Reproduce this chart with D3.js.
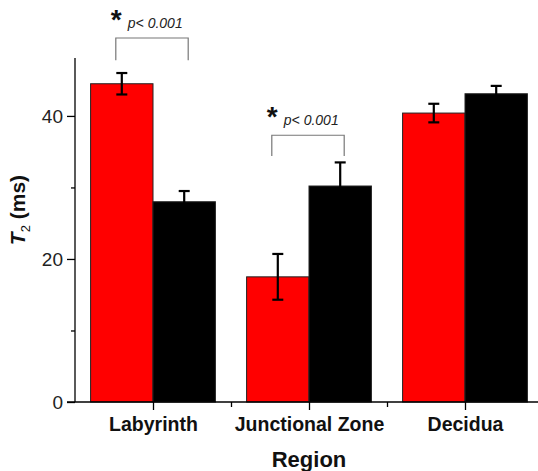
<!DOCTYPE html>
<html>
<head>
<meta charset="utf-8">
<script src="https://cdn.jsdelivr.net/npm/d3@7"></script>
<style>
  body { margin: 0; background: #fff; }
  text { font-family: "Liberation Sans", Arial, sans-serif; }
</style>
</head>
<body>
<div id="chart"></div>
<script>
var svgWidth = 538;
var svgHeight = 471;

// data
var regions = ["Labyrinth", "Junctional Zone", "Decidua"];
var redMeans = [44.5, 17.5, 40.4];
var redErrs = [1.5, 3.2, 1.3];
var blackMeans = [28.0, 30.2, 43.1];
var blackErrs = [1.5, 3.3, 1.1];
var yTicks = [0, 20, 40];
var yMinorTicks = [10, 30];
var sigLabel = "p< 0.001";

var svg = d3.select("#chart")
  .append("svg")
  .attr("width", svgWidth)
  .attr("height", svgHeight);

// category centres sit on integer positions 1..3
var x = d3.scaleLinear().domain([0.5, 3.5]).range([75, 543]);
var y = d3.scaleLinear().domain([0, 48.1]).range([402, 58]);
var barW = (x(2) - x(1)) * 0.4;

var series = [
  {means: redMeans, errs: redErrs, color: "#ff0000", offset: -1},
  {means: blackMeans, errs: blackErrs, color: "#000000", offset: 0}
];

// bars
series.forEach(function(s) {
  svg.append("g").selectAll("rect")
    .data(s.means)
    .enter()
    .append("rect")
    .attr("x", (d, i) => x(i + 1) + s.offset * barW)
    .attr("y", d => y(d))
    .attr("width", barW)
    .attr("height", d => y(0) - y(d))
    .attr("fill", s.color)
    .attr("stroke", "#222")
    .attr("stroke-width", 1);
});

// error bars
series.forEach(function(s) {
  var g = svg.append("g");
  s.means.forEach(function(m, i) {
    var cx = x(i + 1) + s.offset * barW + barW / 2;
    var e = s.errs[i];
    g.append("line")
      .attr("x1", cx).attr("x2", cx)
      .attr("y1", y(m + e)).attr("y2", y(m - e))
      .attr("stroke", "#000").attr("stroke-width", 2.2);
    [m + e, m - e].forEach(function(v) {
      g.append("line")
        .attr("x1", cx - 5.5).attr("x2", cx + 5.5)
        .attr("y1", y(v)).attr("y2", y(v))
        .attr("stroke", "#000").attr("stroke-width", 2.2);
    });
  });
});

// y axis
var leftAxis = d3.axisLeft(y).tickValues(yTicks).tickSize(8).tickPadding(4);
var yAxis = svg.append("g")
  .attr("transform", `translate(${x(0.5)}, 0)`)
  .call(leftAxis);
yAxis.select(".domain").attr("d", `M0,${y(0)}V${y(48.1)}`).attr("stroke-width", 1.3);
yAxis.selectAll(".tick line").attr("stroke-width", 1.3);
yAxis.selectAll("text")
  .style("font-size", "19px")
  .attr("fill", "#222");
svg.append("g")
  .attr("transform", `translate(${x(0.5)}, 0)`)
  .call(d3.axisLeft(y).tickValues(yMinorTicks).tickSize(4).tickFormat(""))
  .call(g => g.select(".domain").remove())
  .selectAll("line").attr("stroke-width", 1.3);

// x axis
var bottomAxis = d3.axisBottom(x).tickValues([1, 2, 3]).tickSize(8).tickFormat((d, i) => regions[i]).tickPadding(7);
var xAxis = svg.append("g")
  .attr("transform", `translate(0, ${y(0)})`)
  .call(bottomAxis);
xAxis.select(".domain").attr("d", `M${x(0.5) - 8},0H${x(3.5)}`).attr("stroke-width", 1.3);
xAxis.selectAll(".tick line").attr("stroke-width", 1.3);
xAxis.selectAll("text")
  .style("font-size", "19.5px")
  .style("font-weight", "bold")
  .attr("fill", "#111");
svg.append("g")
  .attr("transform", `translate(0, ${y(0)})`)
  .call(d3.axisBottom(x).tickValues([1.5, 2.5]).tickSize(5).tickFormat(""))
  .call(g => g.select(".domain").remove())
  .selectAll("line").attr("stroke-width", 1.3);

// axis titles
svg.append("text")
  .attr("x", x(2))
  .attr("y", 467)
  .attr("text-anchor", "middle")
  .style("font-size", "22px")
  .style("font-weight", "bold")
  .attr("fill", "#111")
  .text("Region");

var yLabel = svg.append("text")
  .attr("transform", "translate(25, 210) rotate(-90)")
  .attr("text-anchor", "middle")
  .style("font-size", "21px")
  .style("font-weight", "bold")
  .attr("fill", "#111");
yLabel.append("tspan").style("font-style", "italic").text("T");
yLabel.append("tspan").attr("dy", 5).style("font-size", "13px").style("font-weight", "normal").text("2");
yLabel.append("tspan").attr("dy", -5).text(" (ms)");

// significance brackets
var brackets = [
  {i: 0, top: 50.9, bottom: 47.8},
  {i: 1, top: 37.3, bottom: 34.4}
];
brackets.forEach(function(b) {
  var x1 = x(b.i + 1) - barW / 2 - 6;
  var x2 = x(b.i + 1) + barW / 2 + 4;
  svg.append("path")
    .attr("d", `M${x1},${y(b.bottom)}V${y(b.top)}H${x2}V${y(b.bottom)}`)
    .attr("fill", "none")
    .attr("stroke", "#777")
    .attr("stroke-width", 1.2);
  svg.append("text")
    .attr("x", x1 - 5)
    .attr("y", y(b.top) - 9)
    .style("font-size", "28px")
    .style("font-weight", "bold")
    .attr("fill", "#111")
    .text("*");
  svg.append("text")
    .attr("x", x1 + 12)
    .attr("y", y(b.top) - 10)
    .style("font-size", "14px")
    .style("font-style", "italic")
    .attr("fill", "#222")
    .text(sigLabel);
});
</script>
</body>
</html>
